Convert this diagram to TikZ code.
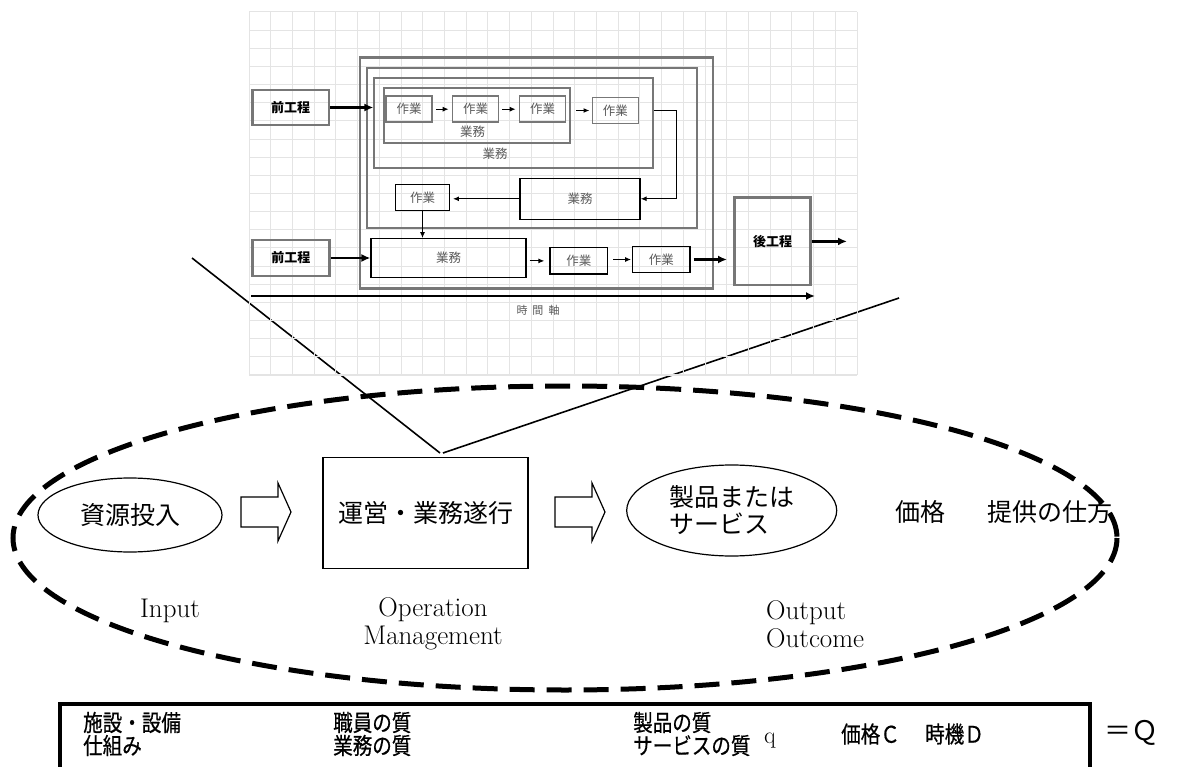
\documentclass[tikz,border=0pt]{standalone}
\usepackage{fontspec}
\newfontfamily\jp{Noto Sans CJK JP}
\newfontfamily\jpnarrow{Noto Sans CJK JP}[FakeStretch=0.85,FakeBold=0.6]
\usetikzlibrary{arrows.meta,shapes.geometric}
\definecolor{gridgray}{HTML}{E4E4E4}
\definecolor{boxgray}{HTML}{777777}
\definecolor{txtgray}{HTML}{5A5A5A}
\def\blockarrow(#1){\draw[line width=1.2] (#1) ++(0,-15) -- ++(37,0) -- ++(0,-14) -- ++(13,29) -- ++(-13,29) -- ++(0,-14) -- ++(-37,0) -- cycle;}
\tikzset{
	grp/.style={draw=boxgray, inner sep=0},
	task/.style={draw=boxgray, line width=1.6, minimum width=46, minimum height=26, inner sep=0, text=txtgray, font=\jp\fontsize{12.5}{12.5}\selectfont},
	btask/.style={draw, line width=1.2, inner sep=0, text=txtgray, font=\jp\fontsize{12.5}{12.5}\selectfont},
	proc/.style={draw=boxgray, line width=2.6, inner sep=0, font=\jp\bfseries\fontsize{13}{13}\selectfont},
	grplbl/.style={inner sep=0, text=txtgray, font=\jp\fontsize{12.5}{12.5}\selectfont},
	thin arr/.style={-{Latex[length=6pt,width=5pt]}, line width=1.2},
	thick arr/.style={-{Latex[length=9pt,width=8pt]}, line width=2.4},
	big/.style={inner sep=0, font=\jp\fontsize{25}{27}\selectfont},
	eng/.style={inner sep=0, font=\fontsize{27}{28}\selectfont},
	qtext/.style={inner sep=0, anchor=west, align=left, font=\jpnarrow\fontsize{23}{23}\selectfont},
}

\begin{document}
\begin{tikzpicture}[x=1pt, y=-1pt]
	%%%%% START %%%%%
	\useasboundingbox (0,0) rectangle (1181,767);
	\clip (0,0) rectangle (1181,767);

	% lines fanning out of the operation box
	\coordinate (fanL) at (192,258);
	\coordinate (fanR) at (899,298);
	\coordinate (tipL) at (440,453);
	\coordinate (tipR) at (443,453);
	\draw[line width=1.6] (fanL) -- (tipL);
	\draw[line width=1.6] (tipR) -- (fanR);

	% grid
	\foreach \i in {0,...,28}
		\draw[gridgray, line width=1] ({249+\i*21.714},12) -- ({249+\i*21.714},375);
	\foreach \j in {0,...,20}
		\draw[gridgray, line width=1] (249,{12+\j*18.15}) -- (857,{12+\j*18.15});

	% nested groups
	\node[grp, line width=2.8, minimum width=353, minimum height=231] (grpA) at (536.4,173) {};
	\node[grp, line width=2.2, minimum width=330, minimum height=160] (grpB) at (531.7,148.3) {};
	\node[grp, line width=1.8, minimum width=279, minimum height=89.4] (grpC) at (513.8,123) {};
	\node[grp, line width=1.8, minimum width=186.3, minimum height=54.4] (grpD) at (476.9,115.5) {};
	\node[grplbl] (lblD) at (472.7,131.7) {業務};
	\node[grplbl] (lblC) at (495,153.3) {業務};

	\node[task] (t1) at (409.2,109.2) {作業};
	\node[task] (t2) at (475.5,109.2) {作業};
	\node[task] (t3) at (542.5,109.2) {作業};
	\node[task] (t4) at (615.3,110.5) {作業};
	\draw[thin arr, shorten <=3pt, shorten >=3pt] (t1) -- (t2);
	\draw[thin arr, shorten <=3pt, shorten >=3pt] (t2) -- (t3);
	\draw[thin arr, shorten <=5pt, shorten >=2pt] (grpD.east |- t4) -- (t4);

	\node[proc, minimum width=76.7, minimum height=35] (pre1) at (290.7,107.5) {前工程};
	\draw[thick arr] (pre1) -- (pre1 -| grpC.west);

	% loop back
	\node[btask, minimum width=120, minimum height=41] (bizM) at (580,198.8) {業務};
	\node[btask, minimum width=53.6, minimum height=26.4] (taskM) at (422.5,197.5) {作業};
	\node[btask, minimum width=155, minimum height=38.6] (bizB) at (448.5,258) {業務};
	\draw[thin arr] (grpC.east |- t4) -- ++(22.4,0) |- (bizM.east);
	\draw[thin arr, shorten >=3pt] (bizM.west) -- (bizM.west -| taskM.east);
	\draw[thin arr] (taskM) -- (taskM |- bizB.north);

	% bottom row
	\node[btask, minimum width=57.7, minimum height=26.3] (taskA) at (578.9,260.9) {作業};
	\node[btask, minimum width=57.3, minimum height=25.6] (taskB) at (661.4,259.5) {作業};
	\node[proc, minimum width=77, minimum height=36] (pre2) at (290.8,258) {前工程};
	\node[proc, minimum width=76.4, minimum height=87.3] (post) at (772.5,241.4) {後工程};
	\draw[thick arr] (pre2) -- (bizB);
	\draw[thin arr, shorten <=3pt, shorten >=5pt] (bizB.east |- taskA) -- (taskA);
	\draw[thin arr, shorten <=5pt, shorten >=1pt] (taskA.east |- taskB) -- (taskB);
	\draw[thick arr, shorten <=3pt, shorten >=6pt] (taskB.east) -- (taskB.east -| post.west);
	\draw[thick arr] (post.east) -- ++(35,0);

	% time axis
	\coordinate (tStart) at (251,296);
	\coordinate (tEnd) at (815,296);
	\draw[thick arr] (tStart) -- (tEnd);
	\node[grplbl, font=\jp\fontsize{11}{11}\selectfont] (axis) at (538,310) {時\hspace{5pt}間\hspace{5pt}軸};

	% scope of operation
	\draw[line width=5, dash pattern=on 25pt off 12pt] (565,538) ellipse [x radius=552, y radius=152];

	\node[draw, ellipse, line width=1.2, minimum width=184, minimum height=74, big] (input) at (130,515) {資源投入};
	\blockarrow(241,512)
	\node[draw, line width=1.2, minimum width=205, minimum height=111, big] (ops) at (425.5,513) {運営・業務遂行};
	\blockarrow(555,512)
	\node[draw, ellipse, line width=1.2, minimum width=210, minimum height=91, big, align=left] (output) at (731.7,510.5) {製品または\\サービス};
	\node[big] (price) at (920,512) {価格};
	\node[big] (delivery) at (1050,512) {提供の仕方};

	\node[eng] (lin) at (170,611) {Input};
	\node[eng, align=center] (lop) at (433,624) {Operation\\Management};
	\node[eng, anchor=west, align=left] (lout) at (766,624) {Output\\Outcome};

	% quality formula
	\draw[line width=3.5] (60,780) |- (1090,704) -- (1090,780);
	\node[qtext] (fac) at (83,734) {施設・設備\\仕組み};
	\node[qtext] (staff) at (333,734) {職員の質\\業務の質};
	\node[qtext] (prodq) at (633,734) {製品の質\\サービスの質};
	\node[qtext, font=\fontsize{24}{24}\selectfont] (qsmall) at (764,741) {q};
	\node[qtext] (cost) at (841,734) {価格Ｃ};
	\node[qtext] (timing) at (925,734) {時機Ｄ};
	\node[qtext, font=\jp\fontsize{27}{27}\selectfont] (total) at (1104,733) {＝Ｑ};

	%%%%% END %%%%%
\end{tikzpicture}
\end{document}
